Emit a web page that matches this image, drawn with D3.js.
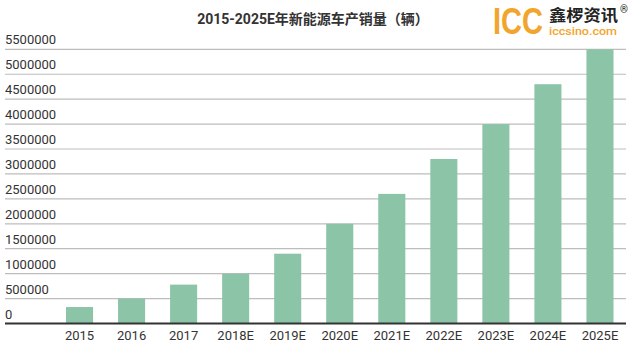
<!DOCTYPE html>
<html>
<head>
<meta charset="utf-8">
<script src="https://cdn.jsdelivr.net/npm/d3@7"></script>
<style>
  html, body { margin: 0; padding: 0; background: #fff; }
  svg { display: block; font-family: Roboto, "Noto Sans CJK SC", sans-serif; }
</style>
</head>
<body>
<svg id="chart" width="632" height="346"></svg>
<script>
// data
const years = ['2015', '2016', '2017', '2018E', '2019E', '2020E', '2021E', '2022E', '2023E', '2024E', '2025E'];
const sales = [330000, 500000, 780000, 1000000, 1400000, 2000000, 2600000, 3300000, 4000000, 4800000, 5500000];
const yTicks = [0, 500000, 1000000, 1500000, 2000000, 2500000, 3000000, 3500000, 4000000, 4500000, 5000000, 5500000];

const svg = d3.select('#chart');

const x = d3.scaleBand().domain(years).range([53.5, 626]).paddingInner(0.48).paddingOuter(0.24);
const y = d3.scaleLinear().domain([0, 5500000]).range([323.5, 49.3]);

// gridlines + left tick labels sitting on them
const grid = svg.append('g');
grid.selectAll('line')
    .data(yTicks.filter(d => d > 0))
    .join('line')
    .attr('x1', 5).attr('x2', 626)
    .attr('y1', d => y(d)).attr('y2', d => y(d))
    .attr('stroke', '#bdbdbd').attr('stroke-width', 1.2);

grid.selectAll('text')
    .data(yTicks)
    .join('text')
    .attr('x', 5).attr('y', d => y(d) - 5)
    .attr('font-size', 13).attr('fill', '#333')
    .text(d => d);

// bars
svg.append('g').selectAll('rect')
    .data(years.map((yr, i) => ({ yr, v: sales[i] })))
    .join('rect')
    .attr('x', d => x(d.yr))
    .attr('width', x.bandwidth())
    .attr('y', d => y(d.v))
    .attr('height', d => y(0) - y(d.v))
    .attr('fill', '#8cc4a8');

// baseline
svg.append('line')
    .attr('x1', 5).attr('x2', 626)
    .attr('y1', y(0)).attr('y2', y(0))
    .attr('stroke', '#333').attr('stroke-width', 2);

// x axis labels
const xAxis = svg.append('g')
    .attr('transform', `translate(0,${y(0)})`)
    .call(d3.axisBottom(x).tickSize(0).tickPadding(7));
xAxis.select('.domain').remove();
xAxis.selectAll('text')
    .attr('font-size', 13).attr('fill', '#333')
    .attr('font-family', 'Roboto, sans-serif');

// title
svg.append('text')
    .attr('x', 313).attr('y', 24)
    .attr('text-anchor', 'middle')
    .attr('font-size', 14).attr('font-weight', 700).attr('fill', '#333')
    .text('2015-2025E年新能源车产销量（辆）');

// logo
const logo = svg.append('g');
logo.append('text')
    .attr('x', 493).attr('y', 33.5)
    .attr('font-size', 36).attr('font-weight', 700).attr('fill', '#f2a52c')
    .attr('font-family', '"Liberation Sans", sans-serif')
    .attr('textLength', 50).attr('lengthAdjust', 'spacingAndGlyphs')
    .text('ICC');
logo.append('text')
    .attr('x', 549).attr('y', 20.5)
    .attr('font-size', 16).attr('font-weight', 700).attr('fill', '#222')
    .attr('font-family', '"Noto Sans CJK SC", sans-serif')
    .attr('textLength', 69).attr('lengthAdjust', 'spacingAndGlyphs')
    .text('鑫椤资讯');
logo.append('text')
    .attr('x', 549).attr('y', 35)
    .attr('font-size', 11.5).attr('font-weight', 500).attr('fill', '#f2a52c')
    .attr('textLength', 68).attr('lengthAdjust', 'spacingAndGlyphs')
    .text('iccsino.com');
logo.append('text')
    .attr('x', 620).attr('y', 13)
    .attr('font-size', 10).attr('fill', '#222')
    .text('®');
</script>
</body>
</html>
